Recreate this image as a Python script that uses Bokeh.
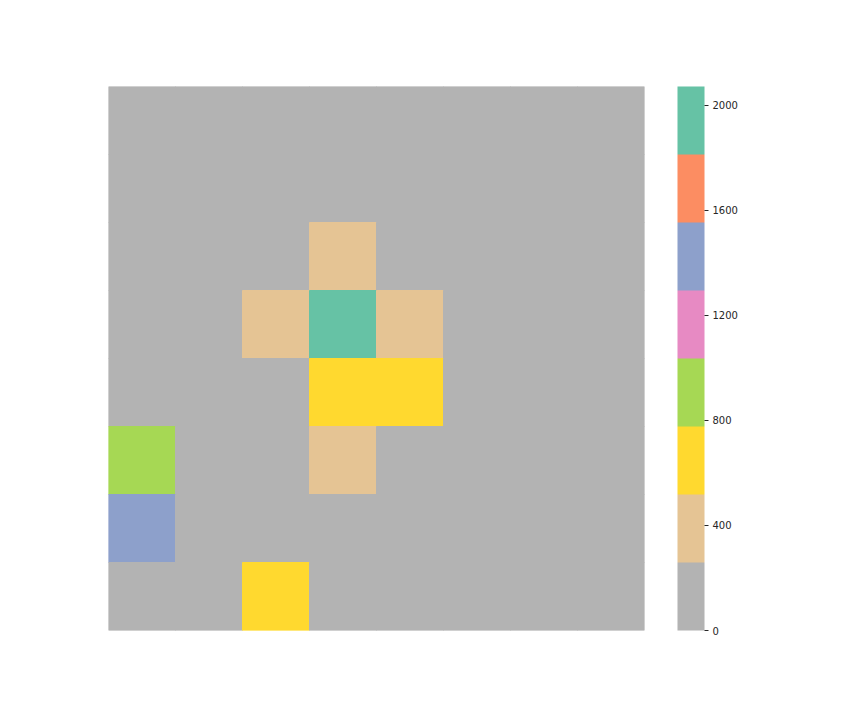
from bokeh.plotting import figure
from bokeh.models import LinearColorMapper, ColorBar, FixedTicker, Range1d, ColumnDataSource
from bokeh.palettes import Set2
from bokeh.embed import file_html
from bokeh.resources import INLINE

# rows listed top to bottom, columns left to right
row_labels = [7, 6, 5, 4, 3, 2, 1, 0]
col_labels = [0, 1, 2, 3, 4, 5, 6, 7]
values = [
    [0, 0, 0, 0, 0, 0, 0, 0],
    [0, 0, 0, 0, 0, 0, 0, 0],
    [0, 0, 0, 390, 0, 0, 0, 0],
    [0, 0, 360, 2072, 410, 0, 0, 0],
    [0, 0, 0, 700, 620, 0, 0, 0],
    [900, 0, 0, 380, 0, 0, 0, 0],
    [1420, 0, 0, 0, 0, 0, 0, 0],
    [0, 0, 600, 0, 0, 0, 0, 0],
]
cbar_ticks = [0, 400, 800, 1200, 1600, 2000]
vmin, vmax = 0, 2072

xs, ys, vs = [], [], []
for r, row in zip(row_labels, values):
    for c, v in zip(col_labels, row):
        xs.append(c)
        ys.append(r)
        vs.append(v)
src = ColumnDataSource(dict(x=xs, y=ys, v=vs))

palette = list(reversed(Set2[8]))
mapper = LinearColorMapper(palette=palette, low=vmin, high=vmax)

p = figure(width=864, height=720, output_backend="svg", toolbar_location=None,
           x_range=Range1d(-0.5, 7.5), y_range=Range1d(-0.5, 7.5),
           min_border_left=108, min_border_top=86, min_border_bottom=90, min_border_right=220)
p.rect(x="x", y="y", width=1, height=1, source=src,
       fill_color={"field": "v", "transform": mapper},
       line_color={"field": "v", "transform": mapper}, line_width=1)
p.xaxis.visible = False
p.yaxis.visible = False
p.grid.visible = False
p.outline_line_color = None

cb = ColorBar(color_mapper=mapper, ticker=FixedTicker(ticks=cbar_ticks),
              location=(33, 0),
              width=27, height=544, padding=0, margin=0,
              major_tick_out=4, major_tick_in=0, major_tick_line_color="#262626",
              minor_tick_line_color=None, bar_line_color=None,
              label_standoff=4, major_label_text_font="DejaVu Sans",
              major_label_text_font_size="10px", major_label_text_color="#262626",
              background_fill_color=None, border_line_color=None)
p.add_layout(cb, "right")

open("out.html", "w").write(file_html(p, INLINE))
